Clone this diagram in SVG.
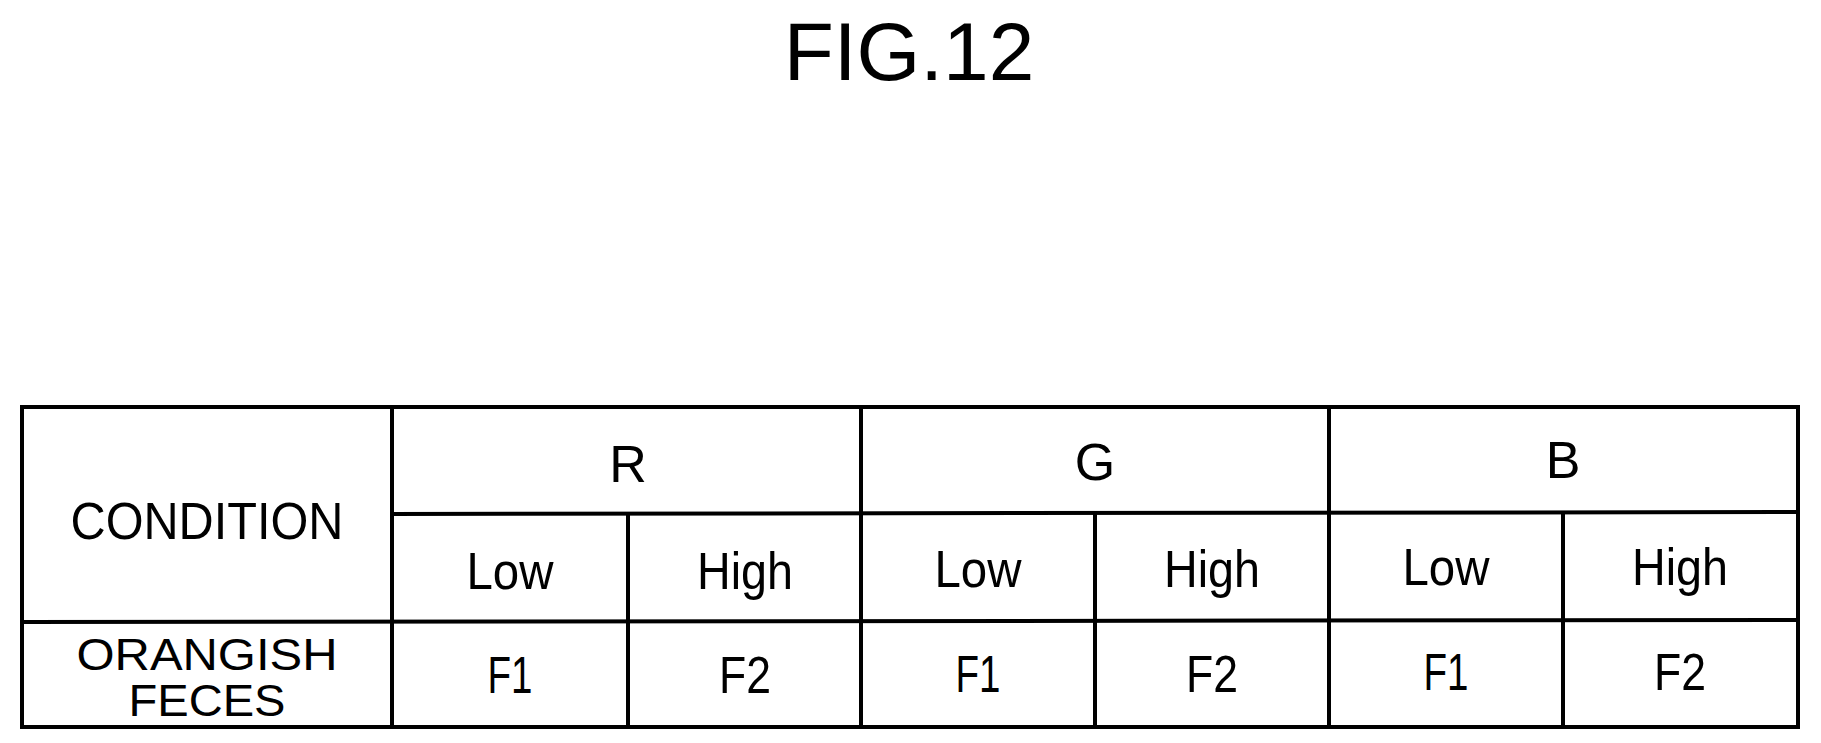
<svg xmlns="http://www.w3.org/2000/svg" width="1821" height="743" viewBox="0 0 1821 743">
<style>
.t{font-family:"Liberation Sans",Arial,sans-serif;font-size:52px;fill:#000;text-anchor:middle}
.s{font-size:44px}
.l{stroke:#000;stroke-width:4;fill:none}
</style>
<rect width="1821" height="743" fill="#fff"/>
<text x="909" y="80" font-family="Liberation Sans,Arial,sans-serif" font-size="82" text-anchor="middle">FIG.12</text>
<g id="grid">
<rect class="l" x="22" y="407" width="1776" height="320"/>
<line class="l" x1="392" y1="407" x2="392" y2="727"/>
<line class="l" x1="861" y1="407" x2="861" y2="727"/>
<line class="l" x1="1329" y1="407" x2="1329" y2="727"/>
<line class="l" x1="392" y1="514" x2="1798" y2="512"/>
<line class="l" x1="22" y1="622" x2="1798" y2="620"/>
<line class="l" x1="628" y1="514" x2="628" y2="727"/>
<line class="l" x1="1095" y1="513" x2="1095" y2="727"/>
<line class="l" x1="1563" y1="512" x2="1563" y2="727"/>
</g>
<g id="labels">
<text class="t" x="207" y="539" textLength="273" lengthAdjust="spacingAndGlyphs">CONDITION</text>
<text class="t s" x="207" y="670" textLength="261" lengthAdjust="spacingAndGlyphs">ORANGISH</text>
<text class="t s" x="207" y="716" textLength="157" lengthAdjust="spacingAndGlyphs">FECES</text>
<text class="t" x="628" y="482">R</text>
<text class="t" x="1095" y="480">G</text>
<text class="t" x="1563" y="478">B</text>
<text class="t" x="510" y="589" textLength="87" lengthAdjust="spacingAndGlyphs">Low</text>
<text class="t" x="745" y="589" textLength="96" lengthAdjust="spacingAndGlyphs">High</text>
<text class="t" x="978" y="587" textLength="87" lengthAdjust="spacingAndGlyphs">Low</text>
<text class="t" x="1212" y="587" textLength="96" lengthAdjust="spacingAndGlyphs">High</text>
<text class="t" x="1446" y="585" textLength="87" lengthAdjust="spacingAndGlyphs">Low</text>
<text class="t" x="1680" y="585" textLength="96" lengthAdjust="spacingAndGlyphs">High</text>
<text class="t" x="510" y="693" textLength="45" lengthAdjust="spacingAndGlyphs">F1</text>
<text class="t" x="745" y="693" textLength="52" lengthAdjust="spacingAndGlyphs">F2</text>
<text class="t" x="978" y="692" textLength="45" lengthAdjust="spacingAndGlyphs">F1</text>
<text class="t" x="1212" y="692" textLength="52" lengthAdjust="spacingAndGlyphs">F2</text>
<text class="t" x="1446" y="690" textLength="45" lengthAdjust="spacingAndGlyphs">F1</text>
<text class="t" x="1680" y="690" textLength="52" lengthAdjust="spacingAndGlyphs">F2</text>
</g>
</svg>
